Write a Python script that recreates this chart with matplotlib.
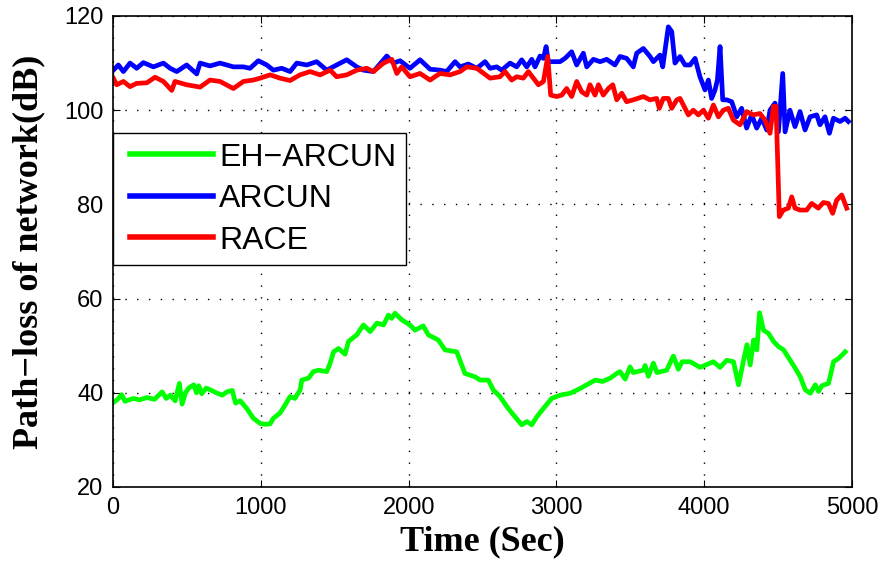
# coding:utf-8
import matplotlib
matplotlib.use('Agg')
import matplotlib.pyplot as plt
from matplotlib.lines import Line2D
from matplotlib.legend_handler import HandlerLine2D

# EH-ARCUN (green)
t_eh = [0, 30, 59, 80, 138, 180, 230, 280, 332, 360, 388, 420, 449, 467, 490, 512, 546, 565, 580, 600,
        630, 660, 705, 740, 770, 807, 829, 860, 904, 949, 995, 1030, 1063, 1085, 1130, 1164, 1198, 1230, 1266, 1277,
        1322, 1356, 1390, 1446, 1469, 1492, 1525, 1570, 1593, 1649, 1694, 1740, 1785, 1830, 1863, 1885, 1908, 1953, 2009, 2043,
        2099, 2133, 2201, 2246, 2325, 2381, 2449, 2483, 2539, 2573, 2618, 2664, 2709, 2765, 2800, 2833, 2867, 2923, 2968, 3025,
        3093, 3160, 3205, 3262, 3310, 3363, 3408, 3430, 3465, 3498, 3520, 3588, 3600, 3622, 3656, 3680, 3746, 3791, 3825, 3850,
        3904, 3972, 4062, 4107, 4152, 4198, 4232, 4266, 4289, 4311, 4334, 4356, 4374, 4401, 4435, 4469, 4503, 4537, 4582, 4616,
        4650, 4684, 4718, 4751, 4773, 4796, 4841, 4875, 4909, 4954]
v_eh = [37.9, 38.6, 39.6, 38.2, 38.8, 38.5, 39.0, 38.6, 40.2, 38.8, 39.5, 38.3, 42.0, 37.6, 40.0, 41.0, 41.7, 40.0, 41.5, 39.8,
        41.0, 40.6, 39.9, 39.5, 40.2, 40.5, 37.8, 38.3, 36.7, 34.6, 33.5, 33.3, 33.4, 34.6, 35.7, 37.4, 39.2, 38.8, 40.6, 42.7,
        43.1, 44.5, 44.8, 44.5, 46.3, 48.7, 49.4, 48.2, 50.9, 52.3, 54.4, 53.0, 54.8, 54.4, 56.5, 55.8, 56.9, 55.5, 54.4, 53.3,
        54.2, 52.3, 51.2, 49.1, 48.7, 44.1, 43.4, 42.7, 42.7, 40.6, 39.2, 37.1, 35.3, 33.2, 33.9, 33.2, 34.9, 37.1, 38.8, 39.5,
        39.9, 40.9, 41.7, 42.7, 42.4, 43.1, 44.1, 44.5, 42.9, 45.5, 44.3, 44.8, 45.8, 43.5, 46.3, 44.3, 44.8, 47.8, 45.0, 46.6,
        46.6, 45.4, 46.6, 45.4, 46.9, 46.6, 41.7, 46.9, 50.2, 45.9, 51.2, 49.1, 57.0, 53.3, 52.6, 50.9, 49.8, 49.1, 46.9, 45.2,
        43.4, 40.6, 39.9, 41.7, 40.3, 41.5, 42.0, 46.6, 47.3, 48.7]

# ARCUN (blue)
t_ar = [2, 36, 70, 115, 160, 205, 273, 341, 386, 431, 498, 566, 589, 656, 724, 814, 882, 927, 983, 1040,
        1085, 1141, 1198, 1243, 1310, 1378, 1446, 1513, 1581, 1649, 1694, 1762, 1852, 1897, 1942, 2009, 2077, 2145, 2212, 2257,
        2314, 2348, 2404, 2461, 2517, 2551, 2596, 2630, 2686, 2731, 2765, 2799, 2833, 2855, 2889, 2912, 2930, 2945, 2979, 3024,
        3058, 3103, 3137, 3182, 3205, 3250, 3295, 3340, 3396, 3430, 3475, 3520, 3543, 3588, 3633, 3656, 3701, 3719, 3757, 3780,
        3802, 3836, 3870, 3904, 3938, 3971, 4005, 4028, 4050, 4073, 4089, 4107, 4125, 4152, 4186, 4220, 4253, 4287, 4321, 4355,
        4389, 4423, 4445, 4479, 4502, 4531, 4547, 4580, 4614, 4648, 4682, 4716, 4761, 4783, 4817, 4847, 4874, 4919, 4953, 4975]
v_ar = [108.5, 109.6, 108.2, 110.0, 108.9, 110.1, 109.2, 110.0, 108.9, 108.2, 109.6, 107.7, 110.0, 109.4, 110.0, 109.2, 109.2, 108.9, 110.5, 109.6,
        108.5, 108.9, 108.2, 110.0, 109.6, 110.3, 108.5, 109.6, 110.7, 109.2, 108.5, 108.2, 111.5, 110.0, 110.5, 108.9, 110.7, 108.7, 108.5, 108.2,
        110.3, 109.2, 109.8, 108.9, 110.3, 108.9, 109.2, 108.5, 110.0, 109.2, 110.7, 109.2, 110.8, 109.2, 111.5, 111.0, 113.5, 110.3, 110.3, 110.3,
        111.0, 112.4, 109.6, 112.1, 109.2, 110.8, 110.3, 110.8, 109.6, 111.4, 111.0, 109.2, 112.1, 113.1, 111.4, 110.3, 111.7, 109.2, 117.7, 116.7,
        110.0, 111.4, 109.6, 109.6, 111.0, 107.1, 104.3, 106.4, 102.5, 104.3, 106.4, 113.5, 102.2, 102.2, 101.8, 98.6, 100.4, 96.2, 99.0, 96.2,
        98.3, 95.8, 100.0, 101.5, 95.4, 107.8, 95.4, 100.0, 96.5, 99.7, 95.8, 98.6, 99.0, 96.9, 98.6, 95.1, 98.3, 97.6, 98.3, 97.6]

# RACE (red)
t_ra = [2, 25, 70, 115, 160, 228, 284, 341, 397, 419, 498, 589, 656, 724, 814, 882, 949, 995, 1063, 1130,
        1198, 1265, 1333, 1401, 1469, 1513, 1581, 1649, 1716, 1762, 1830, 1886, 1920, 1953, 2009, 2077, 2145, 2212, 2280, 2348,
        2393, 2461, 2551, 2618, 2652, 2697, 2731, 2776, 2810, 2844, 2878, 2912, 2941, 2961, 3002, 3036, 3069, 3103, 3137, 3171,
        3205, 3227, 3261, 3284, 3317, 3351, 3381, 3408, 3442, 3475, 3520, 3588, 3633, 3678, 3696, 3723, 3757, 3780, 3814, 3836,
        3870, 3893, 3926, 3960, 3994, 4028, 4062, 4096, 4129, 4163, 4197, 4242, 4287, 4332, 4377, 4411, 4445, 4468, 4486, 4508,
        4535, 4569, 4592, 4614, 4648, 4693, 4727, 4772, 4806, 4840, 4869, 4896, 4930, 4964]
v_ra = [106.8, 105.4, 106.1, 105.0, 105.7, 105.8, 107.0, 106.1, 104.2, 106.1, 105.4, 104.9, 106.4, 106.1, 104.6, 106.1, 106.4, 106.8, 107.5, 106.8,
        106.3, 107.5, 108.2, 107.5, 108.5, 107.1, 107.5, 108.5, 108.9, 108.2, 110.0, 110.8, 107.8, 109.2, 107.1, 107.8, 106.4, 107.8, 107.5, 108.2,
        109.2, 108.9, 106.8, 107.1, 108.2, 106.4, 107.1, 106.8, 108.2, 106.8, 105.4, 106.1, 111.4, 103.2, 102.9, 103.2, 104.6, 102.9, 106.1, 103.9,
        103.2, 105.4, 103.2, 105.4, 103.2, 104.6, 105.4, 102.2, 103.6, 101.8, 102.2, 102.9, 102.2, 102.5, 100.4, 102.5, 102.5, 100.4, 102.2, 102.5,
        100.4, 99.0, 100.0, 99.0, 100.0, 98.3, 101.1, 98.6, 100.0, 100.4, 97.9, 96.9, 99.7, 99.0, 99.3, 97.9, 95.1, 100.8, 100.8, 77.4,
        78.8, 79.2, 81.6, 79.2, 78.8, 78.8, 80.2, 79.2, 80.4, 80.2, 78.1, 80.9, 82.0, 79.2]

labels = [u'EH\u2212ARCUN', 'ARCUN', 'RACE']
colors = ['#00ff00', '#0000ff', '#ff0000']

fig = plt.figure(figsize=(8.88, 5.67), dpi=100)
ax = fig.add_axes([0.1273, 0.1411, 0.8322, 0.8307])

l1, = ax.plot(t_eh, v_eh, color=colors[0], lw=3.4)
l2, = ax.plot(t_ar, v_ar, color=colors[1], lw=3.4)
l3, = ax.plot(t_ra, v_ra, color=colors[2], lw=3.4)

ax.set_xlim(0, 5000)
ax.set_ylim(20, 120)
ax.set_xticks([0, 1000, 2000, 3000, 4000, 5000])
ax.set_yticks([20, 40, 60, 80, 100, 120])
ax.grid(True, color='black', linestyle=(0, (1, 7.5)), linewidth=1.0)
ax.set_axisbelow(True)
ax.tick_params(direction='in', length=5, width=0.8, top=True, right=True, pad=7,
               labelsize=17)
for lab in ax.get_xticklabels() + ax.get_yticklabels():
    lab.set_family('Liberation Sans')
for s in ax.spines.values():
    s.set_linewidth(1.2)

ax.set_xlabel('Time (Sec)', family='Liberation Serif', fontweight='bold', fontsize=26)
ax.set_ylabel(u'Path\u2212loss of network(dB)', family='Liberation Serif', fontweight='bold', fontsize=26)
ax.xaxis.set_label_coords(0.5, -0.081)
ax.yaxis.set_label_coords(-0.092, 0.5)

# legend: frame flush with the left spine, line starts a bit inside
leg = ax.legend([l1, l2, l3], labels, loc='upper left', bbox_to_anchor=(0, 0.7516),
                borderaxespad=0, fancybox=False, framealpha=1, edgecolor='black',
                prop={'family': 'Liberation Sans', 'size': 23},
                handlelength=2.83, handletextpad=0.2, borderpad=0.3, labelspacing=0.36,
                handler_map={Line2D: HandlerLine2D(xpad=0.23)})
leg.get_frame().set_linewidth(1.0)
for ln in leg.get_lines():
    ln.set_linewidth(4)

fig.savefig('out.png', dpi=100)
